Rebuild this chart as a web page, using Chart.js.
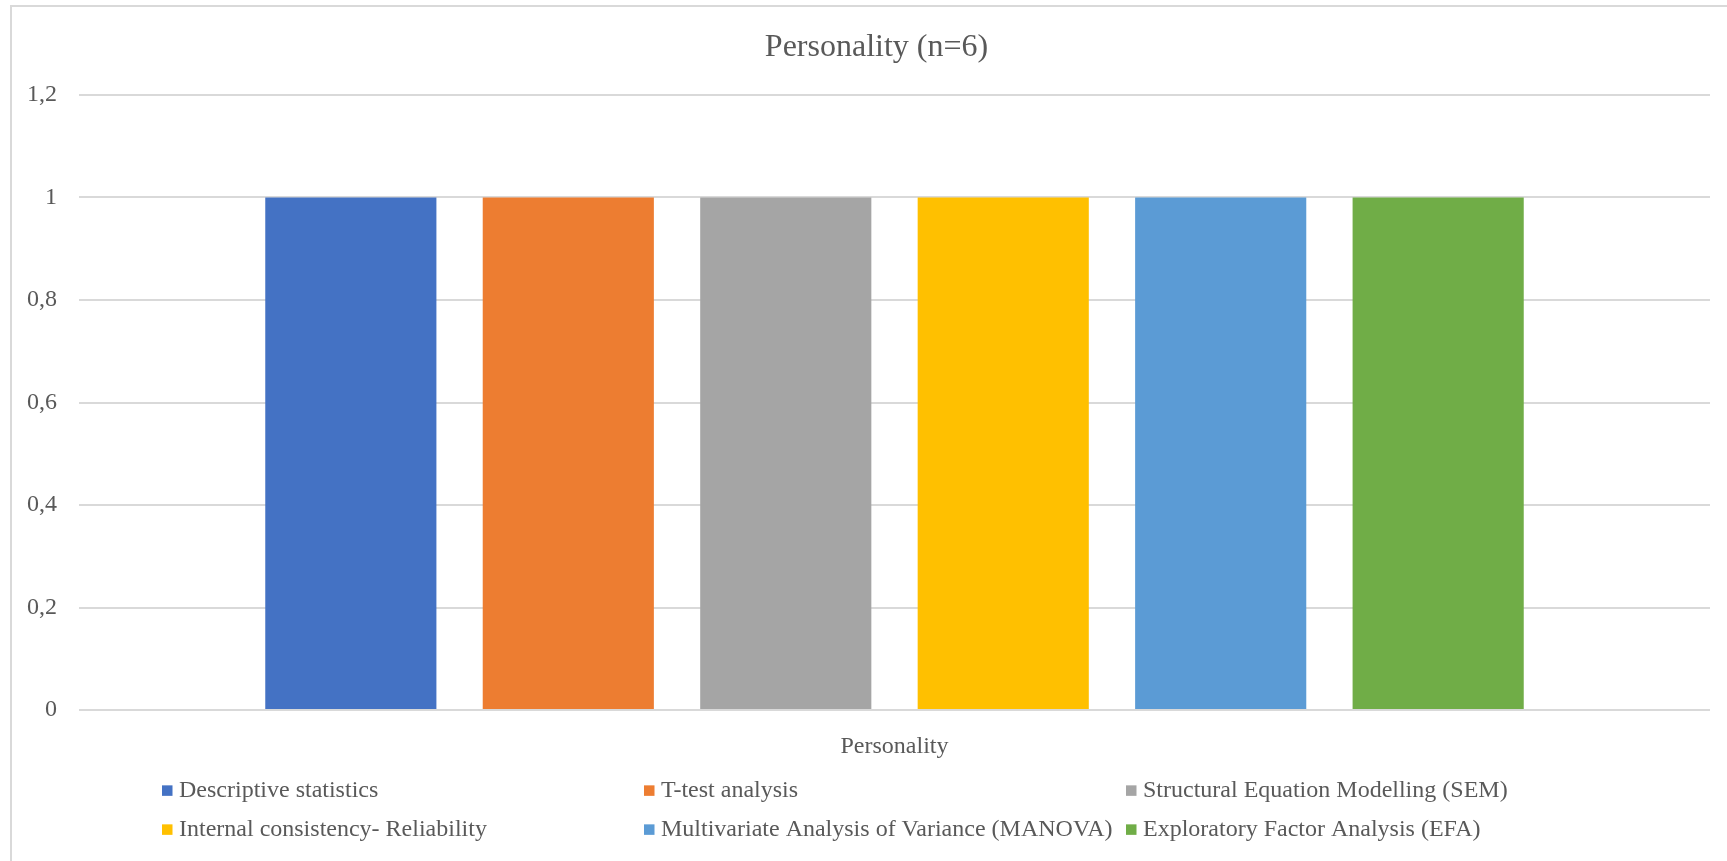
<!DOCTYPE html>
<html>
<head>
<meta charset="utf-8">
<script src="https://cdn.jsdelivr.net/npm/chart.js@4.4.1/dist/chart.umd.min.js"></script>
<style>
  html, body { margin: 0; padding: 0; background: #ffffff; overflow: hidden; }
  #frame {
    position: absolute; left: 10px; top: 5px;
    width: 1800px; height: 900px;
    border: 2px solid #d9d9d9; box-sizing: border-box;
  }
  #wrap { position: absolute; left: 0; top: 0; }
</style>
</head>
<body>
<div id="frame"></div>
<div id="wrap"><canvas id="chart" width="1753" height="861"></canvas></div>
<script>
// Chart content
const chartTitle = 'Personality (n=6)';
const categories = ['Personality'];
const methods = [
  'Descriptive statistics',
  'T-test analysis',
  'Structural Equation Modelling (SEM)',
  'Internal consistency- Reliability',
  'Multivariate Analysis of Variance (MANOVA)',
  'Exploratory Factor Analysis (EFA)'
];
const counts = [1, 1, 1, 1, 1, 1];
const methodColors = ['#4472C4', '#ED7D31', '#A5A5A5', '#FFC000', '#5B9BD5', '#70AD47'];
const yTicks = [0, 0.2, 0.4, 0.6, 0.8, 1, 1.2];

const FONT = '"Liberation Serif", "Times New Roman", serif';
const TEXT = '#595959';
const GRID = '#d9d9d9';

// Legend laid out in a three-column grid below the axis
const gridLegend = {
  id: 'gridLegend',
  afterDraw(chart) {
    const ctx = chart.ctx;
    const colStart = 162, colWidth = 482;
    const base = chart.scales.x.bottom;
    const rowCenters = [base + 30.6, base + 69.6];
    const box = 10.5;
    ctx.save();
    ctx.font = '24px ' + FONT;
    ctx.textBaseline = 'middle';
    ctx.textAlign = 'left';
    chart.data.datasets.forEach((ds, i) => {
      const col = i % 3, row = Math.floor(i / 3);
      const x = colStart + col * colWidth;
      const y = rowCenters[row];
      ctx.fillStyle = ds.backgroundColor;
      ctx.fillRect(x, y - box / 2, box, box);
      ctx.fillStyle = TEXT;
      ctx.fillText(ds.label, x + 17, y);
    });
    ctx.restore();
  }
};

new Chart(document.getElementById('chart'), {
  type: 'bar',
  data: {
    labels: categories,
    datasets: methods.map((m, i) => ({
      label: m,
      data: [counts[i]],
      backgroundColor: methodColors[i],
      borderWidth: 0,
      categoryPercentage: 0.8,
      barPercentage: 0.787
    }))
  },
  options: {
    responsive: false,
    animation: false,
    devicePixelRatio: 1,
    layout: { padding: { left: 0, right: 0, top: 0, bottom: 101 } },
    plugins: {
      legend: { display: false },
      tooltip: { enabled: false },
      title: {
        display: true,
        text: chartTitle,
        color: TEXT,
        font: { family: FONT, size: 32, weight: 'normal' },
        padding: { top: 28.3, bottom: 28.3 }
      }
    },
    scales: {
      x: {
        grid: { display: false },
        border: { display: false },
        ticks: {
          color: TEXT,
          font: { family: FONT, size: 24 },
          padding: 14
        },
        afterFit(scale) { scale.height = 50; }
      },
      y: {
        min: 0,
        max: 1.2,
        afterBuildTicks(scale) { scale.ticks = yTicks.map(v => ({ value: v })); },
        grid: { color: GRID, lineWidth: 2, drawTicks: false },
        border: { display: false },
        ticks: {
          color: TEXT,
          font: { family: FONT, size: 24 },
          padding: 22,
          callback: v => String(Math.round(v * 10) / 10).replace('.', ',')
        },
        afterFit(scale) { scale.width = 79; }
      },
      // empty right-hand margin of the plot
      yRight: {
        position: 'right',
        grid: { display: false },
        border: { display: false },
        ticks: { display: false },
        afterFit(scale) { scale.width = 43; }
      }
    }
  },
  plugins: [gridLegend]
});
</script>
</body>
</html>
